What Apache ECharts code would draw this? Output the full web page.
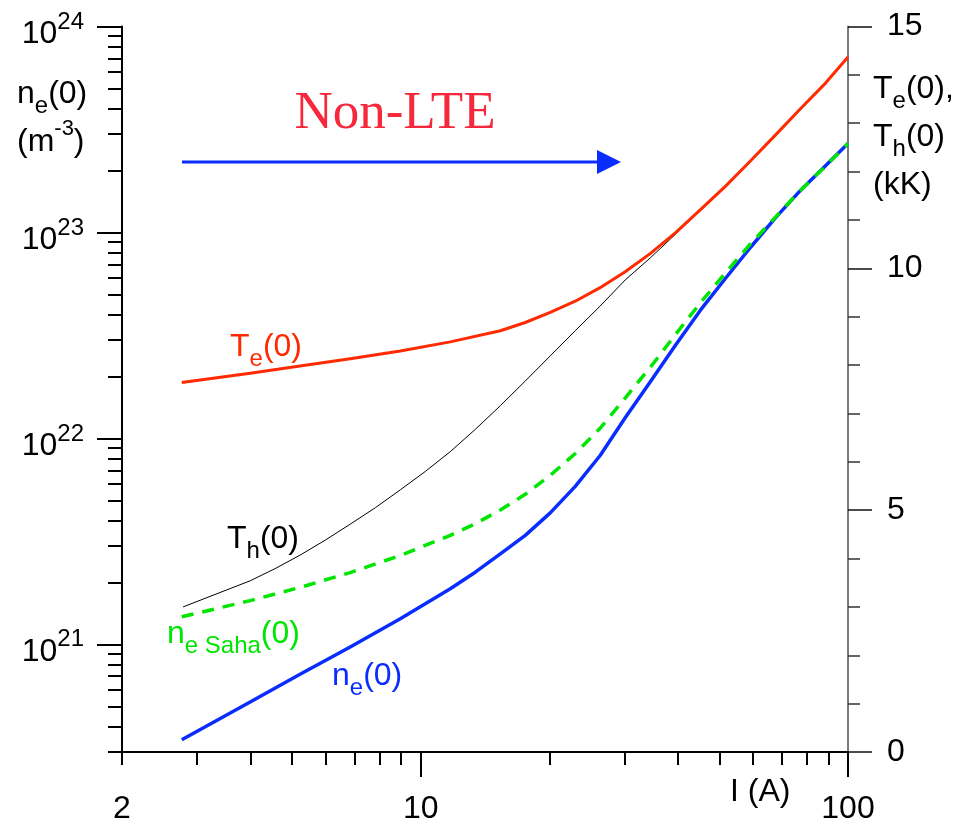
<!DOCTYPE html>
<html>
<head>
<meta charset="utf-8">
<script src="https://cdn.jsdelivr.net/npm/echarts@6/dist/echarts.min.js"></script>
<style>
html,body{margin:0;padding:0;background:#fff;}
#chart{width:972px;height:824px;}
</style>
</head>
<body>
<div id="chart"></div>
<script>
// ---------- data ----------
// I (A)
const currentTe = [2.76, 3.99, 5.22, 6.84, 8.96, 11.73, 15.36, 17.57, 20.1, 23.0, 26.3, 30.1, 34.5, 39.5, 45.1, 51.7, 59.1, 67.7, 77.4, 88.6, 100];
// Te(0) (kK)
const teValues  = [7.64, 7.83, 7.98, 8.13, 8.29, 8.48, 8.71, 8.88, 9.09, 9.32, 9.60, 9.93, 10.31, 10.74, 11.21, 11.70, 12.22, 12.76, 13.30, 13.83, 14.37];

const currentTh = [2.78, 3.99, 4.56, 5.22, 5.98, 6.84, 7.83, 8.96, 10.25, 11.73, 13.42, 15.36, 17.57, 20.1, 23.0, 26.3, 30.1, 34.5, 41.2, 45.1, 51.7, 59.1, 67.7, 77.4, 88.6, 100];
// Th(0) (kK)
const thValues  = [3.00, 3.54, 3.79, 4.07, 4.38, 4.71, 5.05, 5.42, 5.80, 6.21, 6.67, 7.16, 7.67, 8.19, 8.71, 9.22, 9.76, 10.22, 10.86, 11.21, 11.70, 12.22, 12.76, 13.30, 13.83, 14.37];

const currentNe = [2.76, 3.99, 5.22, 6.84, 8.96, 11.73, 13.42, 15.36, 17.57, 20.1, 23.0, 26.3, 30.1, 34.5, 39.5, 45.1, 51.7, 59.1, 67.7, 77.4, 88.6, 100];
// ne(0) (m^-3)
const neValues  = [3.44e20, 5.25e20, 7.15e20, 9.71e20, 1.33e21, 1.86e21, 2.24e21, 2.75e21, 3.38e21, 4.35e21, 5.85e21, 8.26e21, 1.26e22, 1.89e22, 2.84e22, 4.18e22, 5.99e22, 8.45e22, 1.18e23, 1.60e23, 2.11e23, 2.70e23];

const currentSaha = [2.76, 3.99, 5.22, 6.84, 8.96, 11.73, 13.42, 15.36, 17.57, 20.1, 23.0, 26.3, 30.1, 34.5, 39.5, 45.1, 51.7, 59.1, 67.7, 77.4, 88.6, 100];
// ne Saha(0) (m^-3)
const sahaValues  = [1.36e21, 1.63e21, 1.89e21, 2.23e21, 2.70e21, 3.38e21, 3.85e21, 4.49e21, 5.35e21, 6.61e21, 8.45e21, 1.12e22, 1.57e22, 2.22e22, 3.20e22, 4.54e22, 6.37e22, 8.79e22, 1.19e23, 1.60e23, 2.10e23, 2.70e23];

// ---------- ticks ----------
const xTickLabels = [2, 10, 100];
const xMajorTicks = [10, 100];
const xMinorTicks = [2, 3, 4, 5, 6, 7, 8, 9, 20, 30, 40, 50, 60, 70, 80, 90];
const neMajorTicks = [1e21, 1e22, 1e23, 1e24];
const neMinorTicks = [3e20, 4e20, 5e20, 6e20, 7e20, 8e20, 9e20,
  2e21, 3e21, 4e21, 5e21, 6e21, 7e21, 8e21, 9e21,
  2e22, 3e22, 4e22, 5e22, 6e22, 7e22, 8e22, 9e22,
  2e23, 3e23, 4e23, 5e23, 6e23, 7e23, 8e23, 9e23];
const tLabels = [0, 5, 10, 15];

const FONT = 'Liberation Sans, Arial, sans-serif';

function richSet(color) {
  return {
    m: {fontFamily: FONT, fontSize: 32, lineHeight: 48, fill: color, color: color},
    s: {fontFamily: FONT, fontSize: 24, lineHeight: 24, verticalAlign: 'bottom', fill: color, color: color},
    p: {fontFamily: FONT, fontSize: 22, lineHeight: 22, verticalAlign: 'top', fill: color, color: color}
  };
}
function label(x, y, text, color) {
  return {type: 'text', x: x, y: y, z: 100,
    style: {text: text, rich: richSet(color), fill: color, align: 'left', verticalAlign: 'top'}};
}

const pairs = (xs, ys) => xs.map((v, i) => [v, ys[i]]);

const chart = echarts.init(document.getElementById('chart'), null, {renderer: 'canvas'});

const option = {
  animation: false,
  backgroundColor: '#fff',
  grid: {left: 122, right: 124, top: 26.5, bottom: 72, containLabel: false, outerBoundsMode: 'none'},
  xAxis: [
    {type: 'log', logBase: 10, min: 2, max: 100.00001, position: 'bottom',
      axisLine: {show: true, lineStyle: {color: '#000', width: 2}},
      axisTick: {show: true, customValues: xMajorTicks, length: 25, lineStyle: {color: '#000', width: 2}},
      axisLabel: {show: true, customValues: xTickLabels, margin: 41, color: '#000', fontFamily: FONT, fontSize: 32,
        formatter: v => String(Math.round(v))},
      splitLine: {show: false}},
    {type: 'log', logBase: 10, min: 2, max: 100.00001, position: 'bottom',
      axisLine: {show: false},
      axisTick: {show: true, customValues: xMinorTicks, length: 13, lineStyle: {color: '#000', width: 2}},
      axisLabel: {show: false},
      splitLine: {show: false}}
  ],
  yAxis: [
    {type: 'log', logBase: 10, min: 3e20, max: 1.0000001e24, position: 'left',
      axisLine: {show: true, lineStyle: {color: '#000', width: 2}},
      axisTick: {show: true, customValues: neMajorTicks, length: 25, lineStyle: {color: '#000', width: 2}},
      axisLabel: {show: true, customValues: neMajorTicks, margin: 38, align: 'right', padding: [7, 0, 0, 0],
        formatter: v => '{b|10}{s|' + Math.round(Math.log10(v)) + '}',
        rich: {
          b: {fontFamily: FONT, fontSize: 32, lineHeight: 40, verticalAlign: 'bottom', color: '#000'},
          s: {fontFamily: FONT, fontSize: 24, lineHeight: 24, verticalAlign: 'top', color: '#000'}
        }},
      splitLine: {show: false}},
    {type: 'log', logBase: 10, min: 3e20, max: 1.0000001e24, position: 'left',
      axisLine: {show: false},
      axisTick: {show: true, customValues: neMinorTicks, length: 14, lineStyle: {color: '#000', width: 2}},
      axisLabel: {show: false},
      splitLine: {show: false}},
    {type: 'value', min: 0, max: 15, interval: 5, position: 'right',
      axisLine: {show: true, lineStyle: {color: '#7a7a7a', width: 2}},
      axisTick: {show: true, length: 24, lineStyle: {color: '#111', width: 1.5}},
      minorTick: {show: true, splitNumber: 5, length: 12, lineStyle: {color: '#333', width: 1.5}},
      axisLabel: {show: true, margin: 39, color: '#000', fontFamily: FONT, fontSize: 32,
        customValues: tLabels},
      splitLine: {show: false}, minorSplitLine: {show: false}}
  ],
  series: [
    {name: 'Th(0)', type: 'line', xAxisIndex: 0, yAxisIndex: 2, data: pairs(currentTh, thValues),
      showSymbol: false, symbol: 'none', smooth: false,
      lineStyle: {color: '#000', width: 1, join: 'round'}, z: 2},
    {name: 'Te(0)', type: 'line', xAxisIndex: 0, yAxisIndex: 2, data: pairs(currentTe, teValues),
      showSymbol: false, symbol: 'none', smooth: false,
      lineStyle: {color: '#ff2a00', width: 3, join: 'round'}, z: 3},
    {name: 'ne(0)', type: 'line', xAxisIndex: 0, yAxisIndex: 0, data: pairs(currentNe, neValues),
      showSymbol: false, symbol: 'none', smooth: false,
      lineStyle: {color: '#0a2dff', width: 3.5, join: 'round'}, z: 4},
    {name: 'ne Saha(0)', type: 'line', xAxisIndex: 0, yAxisIndex: 0, data: pairs(currentSaha, sahaValues),
      showSymbol: false, symbol: 'none', smooth: false,
      lineStyle: {color: '#00e600', width: 3.5, type: [12, 9]}, z: 5}
  ],
  graphic: [
    label(17, 70, '{m|n}{s|e}{m|(0)}\n{m|(m}{p|-3}{m|)}', '#000'),
    label(873, 65, '{m|T}{s|e}{m|(0),}\n{m|T}{s|h}{m|(0)}\n{m|(kK)}', '#000'),
    label(230, 323, '{m|T}{s|e}{m|(0)}', '#ff2a00'),
    label(227, 515, '{m|T}{s|h}{m|(0)}', '#000'),
    label(167, 610, '{m|n}{s|e Saha}{m|(0)}', '#00e600'),
    label(332, 652, '{m|n}{s|e}{m|(0)}', '#0a2dff'),
    label(730, 768, '{m|I (A)}', '#000'),
    {type: 'text', x: 395, y: 114, z: 100,
      style: {text: 'Non-LTE', fill: '#f5283c', font: '53px "Liberation Serif", "Times New Roman", serif',
        align: 'center', verticalAlign: 'middle'}},
    {type: 'line', z: 100, shape: {x1: 182, y1: 162, x2: 600, y2: 162},
      style: {stroke: '#0a2dff', lineWidth: 3}},
    {type: 'polygon', z: 100, shape: {points: [[597, 150], [621, 162], [597, 174]]},
      style: {fill: '#0a2dff'}}
  ]
};
chart.setOption(option);
</script>
</body>
</html>
